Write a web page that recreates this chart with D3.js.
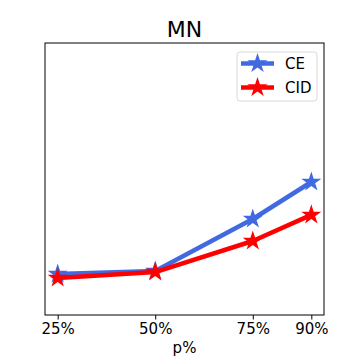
<!DOCTYPE html>
<html>
<head>
<meta charset="utf-8">
<script src="https://cdn.jsdelivr.net/npm/d3@7"></script>
<style>
  body { margin: 0; background: #fff; }
  text { font-family: "DejaVu Sans", sans-serif; fill: #000; }
</style>
</head>
<body>
<svg id="chart" width="360" height="360"></svg>
<script>
// data (y axis has no ticks, so values are relative)
const pValues = [25, 50, 75, 90];
const tickLabels = ["25%", "50%", "75%", "90%"];
const ceValues = [0.151, 0.162, 0.353, 0.489];
const cidValues = [0.136, 0.158, 0.272, 0.368];

const series = [
  { name: "CE", color: "#4169e1", values: ceValues },
  { name: "CID", color: "#ff0000", values: cidValues }
];

const margin = { top: 43, right: 36, bottom: 45, left: 45 };
const width = 360, height = 360;

const svg = d3.select("#chart");

// SCALES
const xScale = d3.scaleLinear()
  .domain([21.75, 93.25])
  .range([margin.left, width - margin.right]);

const yScale = d3.scaleLinear()
  .domain([0, 1])
  .range([height - margin.bottom, margin.top]);

// X AXIS
const xAxis = svg.append("g")
  .attr("transform", `translate(0, ${height - margin.bottom})`)
  .call(d3.axisBottom(xScale)
    .tickValues(pValues)
    .tickFormat((d, i) => tickLabels[i])
    .tickSize(4.5)
    .tickPadding(3.5));
xAxis.select(".domain").remove();
xAxis.selectAll("line").attr("stroke", "#000").attr("stroke-width", 1);
xAxis.selectAll("text").attr("font-size", 15).attr("font-family", "DejaVu Sans");

// FRAME
svg.append("rect")
  .attr("x", margin.left)
  .attr("y", margin.top)
  .attr("width", width - margin.left - margin.right)
  .attr("height", height - margin.top - margin.bottom)
  .attr("fill", "none")
  .attr("stroke", "#000")
  .attr("stroke-width", 1);

// LINES
const line = d3.line()
  .x((d, i) => xScale(pValues[i]))
  .y(d => yScale(d));

const star = d3.symbol().type(d3.symbolStar).size(125);

series.forEach(s => {
  svg.append("path")
    .datum(s.values)
    .attr("d", line)
    .attr("fill", "none")
    .attr("stroke", s.color)
    .attr("stroke-width", 4.5)
    .attr("stroke-linejoin", "round");

  svg.selectAll(null)
    .data(s.values)
    .join("path")
    .attr("d", star)
    .attr("transform", (d, i) => `translate(${xScale(pValues[i])}, ${yScale(d)})`)
    .attr("fill", s.color);
});

// TITLE + LABEL
svg.append("text")
  .attr("x", (margin.left + width - margin.right) / 2)
  .attr("y", 37)
  .attr("text-anchor", "middle")
  .attr("font-size", 22)
  .text("MN");

svg.append("text")
  .attr("x", (margin.left + width - margin.right) / 2)
  .attr("y", 353)
  .attr("text-anchor", "middle")
  .attr("font-size", 15)
  .text("p%");

// LEGEND
const legend = svg.append("g").attr("transform", "translate(237, 52)");
legend.append("rect")
  .attr("width", 80)
  .attr("height", 49)
  .attr("rx", 3)
  .attr("fill", "#fff")
  .attr("fill-opacity", 0.8)
  .attr("stroke", "#d9d9d9");

series.forEach((s, i) => {
  const y = 11.5 + i * 24;
  legend.append("line")
    .attr("x1", 4).attr("x2", 37)
    .attr("y1", y).attr("y2", y)
    .attr("stroke", s.color)
    .attr("stroke-width", 4.5);
  legend.append("path")
    .attr("d", star)
    .attr("transform", `translate(20.5, ${y})`)
    .attr("fill", s.color);
  legend.append("text")
    .attr("x", 48)
    .attr("y", y + 5.5)
    .attr("font-size", 15)
    .text(s.name);
});
</script>
</body>
</html>
